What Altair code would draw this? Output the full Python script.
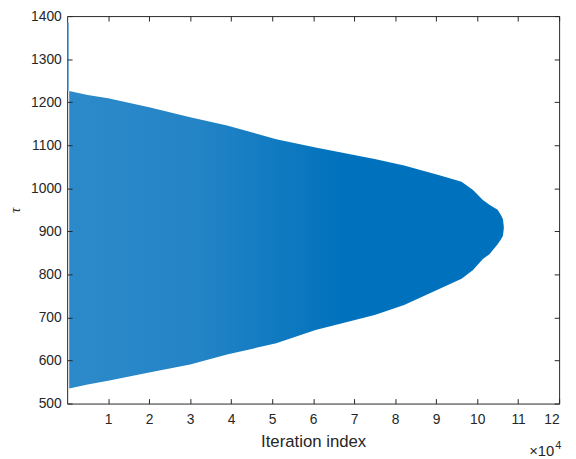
import altair as alt
import pandas as pd

# Envelope of the oscillating tau sequence (x in units of 1e4 iterations)
x_vals = [0.05, 0.5, 1, 2, 3, 3.9, 5.1, 6.06, 7.5, 8.22, 9.1, 9.62, 9.9, 10.14, 10.3, 10.5, 10.58, 10.63, 10.65]
upper = [1226, 1217, 1209, 1188, 1165, 1146, 1114, 1095, 1068, 1053, 1030, 1015, 996, 973, 962, 950, 938, 928, 912]
lower = [535, 544, 553, 572, 591, 614, 640, 671, 706, 729, 767, 790, 810, 836, 847, 870, 881, 890, 906]

# initial spike at the first iteration
spike_x = [0.02]
spike_lo = [1226]
spike_hi = [1385]

x_ticks = list(range(1, 13))
y_ticks = list(range(500, 1401, 100))

BLUE = "#0072BD"
AX = "#262626"
W, H = 499, 393

df = pd.DataFrame({"x": x_vals, "upper": upper, "lower": lower})
sdf = pd.DataFrame({"x": spike_x, "lo": spike_lo, "hi": spike_hi})
mdf = pd.DataFrame({"t": ["×10"], "e": ["4"]})

xs = alt.Scale(domain=[0, 12], nice=False, zero=False)
ys = alt.Scale(domain=[500, 1400], nice=False, zero=False)

common = dict(domain=False, grid=False, tickSize=5, offset=-5, tickColor=AX, tickWidth=1,
              labelColor=AX, labelFont="Liberation Sans", labelFontSize=14, zindex=1, format="d")

# dense oscillation renders as a striped (slightly lighter) fill on the left, solid on the right
fill = alt.Gradient(
    gradient="linear", x1=0, x2=1, y1=0, y2=0,
    stops=[alt.GradientStop(color="#2d8aca", offset=0),
           alt.GradientStop(color="#2384c6", offset=0.3),
           alt.GradientStop(color="#0e79c0", offset=0.5),
           alt.GradientStop(color=BLUE, offset=0.63),
           alt.GradientStop(color=BLUE, offset=1)],
)

area = alt.Chart(df).mark_area(color=fill, interpolate="linear").encode(
    x=alt.X("x:Q", scale=xs, axis=alt.Axis(values=x_ticks, title="Iteration index", labelPadding=9,
                                           titlePadding=8, titleFont="Liberation Sans", titleFontSize=17,
                                           titleFontWeight="normal", titleColor=AX, **common)),
    y=alt.Y("upper:Q", scale=ys, axis=alt.Axis(values=y_ticks, title="τ", labelPadding=6,
                                               titleX=-53, titleBaseline="alphabetic",
                                               titleFont="Liberation Serif", titleFontSize=15,
                                               titleFontStyle="italic", titleFontWeight="normal",
                                               titleColor=AX, **common)),
    y2="lower:Q",
)

spike = alt.Chart(sdf).mark_rule(color="#3a8fd0", strokeWidth=1.2).encode(
    x=alt.X("x:Q", scale=xs, axis=alt.Axis(orient="top", values=x_ticks, labels=False, title="", **common)),
    y=alt.Y("lo:Q", scale=ys, axis=alt.Axis(orient="right", values=y_ticks, labels=False, title="", **common)),
    y2="hi:Q",
)

mult = alt.Chart(mdf).mark_text(align="right", baseline="alphabetic", font="Liberation Sans",
                                fontSize=15, color=AX).encode(
    text="t:N", x=alt.value(494), y=alt.value(446))
expo = alt.Chart(mdf).mark_text(align="left", baseline="alphabetic", font="Liberation Sans",
                                fontSize=11, color=AX).encode(
    text="e:N", x=alt.value(495), y=alt.value(439))

chart = alt.layer(area, spike, mult, expo).resolve_axis(x="independent", y="independent").properties(
    width=W, height=H,
    autosize=alt.AutoSizeParams(type="none"),
    padding={"left": 60, "top": 5, "right": 9, "bottom": 52},
).configure_view(stroke=AX, strokeWidth=1)

chart.save("out.html", embed_options={"renderer": "svg", "actions": False})
